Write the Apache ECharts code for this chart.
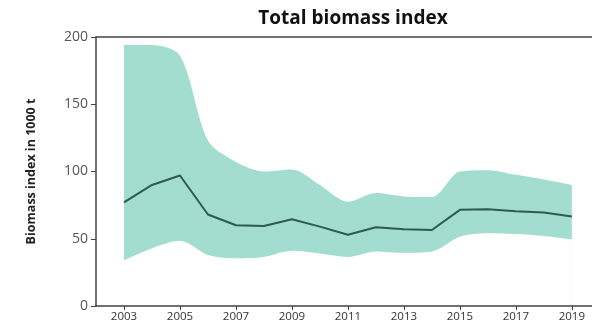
<!DOCTYPE html>
<html><head><meta charset="utf-8">
<script src="https://cdn.jsdelivr.net/npm/echarts@6/dist/echarts.min.js"></script>
<style>html,body{margin:0;padding:0;background:#fff}#c{width:592px;height:329px}</style>
</head><body><div id="c"></div>
<script>
const years = [2003,2004,2005,2006,2007,2008,2009,2010,2011,2012,2013,2014,2015,2016,2017,2018,2019];
const meanIndex = [77,90,97,68,60,59.5,64.5,59,53,58.5,57,56.5,71.5,72,70.5,69.5,66.5];
const upperBound = [194,194,186,123,107,100,101.5,90,77.5,84,81.5,81,100,101,97.5,94,90];
const lowerBound = [34,43,48.5,38,35.5,36.5,41,39,36.5,40.5,39.5,40.5,51.5,54,53.5,52,49.5];
const xTickYears = [2003,2005,2007,2009,2011,2013,2015,2017,2019];
const yTicks = [0,50,100,150,200];

const lowerData = years.map((y,i)=>[y, lowerBound[i]]);
const upperData = years.map((y,i)=>[y, upperBound[i]]);
const meanData = years.map((y,i)=>[y, meanIndex[i]]);

const chart = echarts.init(document.getElementById('c'), null, {renderer:'canvas'});
const axisColor = '#444';
chart.setOption({
  animation:false,
  title:{text:'Total biomass index', left:348, textAlign:'center', top:4,
    textStyle:{fontFamily:'Open Sans', fontWeight:'bold', fontSize:19, color:'#111'}},
  grid:{left:96, right:0, top:37, bottom:23},
  xAxis:[{
    type:'value', min:2002, max:2019.72, position:'bottom', z:10,
    splitLine:{show:false},
    axisLine:{lineStyle:{color:axisColor, width:1.5}},
    axisTick:{customValues:xTickYears, length:4, lineStyle:{color:axisColor}},
    axisLabel:{customValues:xTickYears, formatter:v=>String(v), color:'#333', fontSize:11.5, fontFamily:'Open Sans', margin:5}
  },{
    type:'value', min:2002, max:2019.72, position:'top', z:10,
    splitLine:{show:false}, axisTick:{show:false}, axisLabel:{show:false},
    axisLine:{show:true, lineStyle:{color:axisColor, width:1.5}}
  }],
  yAxis:{
    type:'value', min:0, max:200, interval:50, z:10,
    name:'Biomass index in 1000 t', nameLocation:'middle', nameGap:58, nameRotate:90,
    nameTextStyle:{fontFamily:'Open Sans', fontWeight:'bold', fontSize:12.5, color:'#222'},
    splitLine:{show:false},
    axisLine:{show:true, lineStyle:{color:axisColor, width:1.5}},
    axisTick:{show:true, length:5, lineStyle:{color:axisColor}},
    axisLabel:{color:'#555', fontSize:14, fontFamily:'Open Sans', margin:8}
  },
  series:[
    {type:'line', data:upperData, symbol:'none', smooth:0.3, z:1,
      lineStyle:{width:0}, areaStyle:{color:'#a2ddcf', opacity:1}, silent:true},
    {type:'line', data:lowerData, symbol:'none', smooth:0.3, z:2,
      lineStyle:{width:0}, areaStyle:{color:'#ffffff', opacity:1}, silent:true},
    {type:'line', data:meanData, symbol:'none', z:3,
      lineStyle:{color:'#2f5a52', width:2}}
  ]
});
</script></body></html>
